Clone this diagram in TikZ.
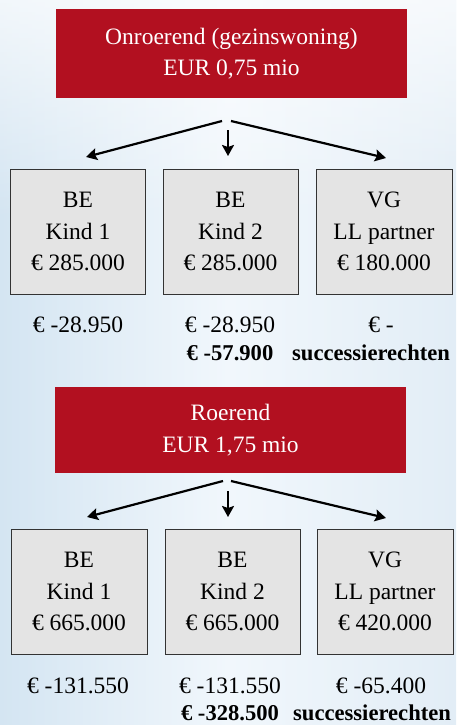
\documentclass[tikz,border=0pt]{standalone}
\usepackage{fontspec}
\setmainfont{Liberation Serif}
\usetikzlibrary{arrows.meta,fadings}
\definecolor{boxred}{RGB}{178,16,32}
\definecolor{boxgray}{RGB}{228,228,228}
\definecolor{bgblue}{RGB}{212,229,242}
\definecolor{bgpale}{RGB}{226,237,246}
\definecolor{bgmid}{RGB}{241,247,252}
\tikzset{
  redbox/.style={fill=boxred, text=white, minimum width=351pt, align=center, inner sep=0pt,
    font=\fontsize{23.5}{31.5}\selectfont},
  graybox/.style={fill=boxgray, draw=black!80, line width=1pt, minimum width=135pt, minimum height=125pt,
    align=center, inner sep=0pt, font=\fontsize{23.5}{31.5}\selectfont},
  amount/.style={inner sep=0pt, font=\fontsize{23.5}{26}\selectfont},
  total/.style={inner sep=0pt, font=\fontsize{22.6}{26}\selectfont\bfseries},
  arr/.style={line width=2.2pt, -{Stealth[length=11pt,width=12pt,inset=2pt]}},
}
\begin{document}
\begin{tikzpicture}[x=1pt,y=-1pt]
\useasboundingbox (0,0) rectangle (456,725);
\shade[left color=bgblue, right color=bgpale, middle color=bgmid, shading angle=90] (0,0) rectangle (456,725);
\fill[white, opacity=0.7, path fading=south] (0,0) rectangle (456,220);
% ---- top half
\node[redbox, minimum height=89pt] (r1) at (231.5,53.5) {Onroerend (gezinswoning)\\EUR 0,75 mio};
\node[graybox] (a1) at (78,231.5) {BE\\Kind 1\\€ 285.000};
\node[graybox] (a2) at (230.5,231.5) {BE\\Kind 2\\€ 285.000};
\node[graybox, minimum width=136pt] (a3) at (384,231.5) {VG\\LL partner\\€ 180.000};
\coordinate (s1l) at (222,121);
\coordinate (s1m) at (228,130);
\coordinate (s1r) at (231,121);
\coordinate (e1l) at (86,157);
\coordinate (e1m) at (228,156);
\coordinate (e1r) at (386,158);
\draw[arr] (s1l) -- (e1l);
\draw[arr] (s1m) -- (e1m);
\draw[arr] (s1r) -- (e1r);
\node[amount] (t1a) at (78,325) {€ -28.950};
\node[amount] (t1b) at (230,325) {€ -28.950};
\node[amount] (t1c) at (381,325) {€ -};
\node[total] (t1d) at (230,353) {€ -57.900};
\node[total, anchor=west] (t1e) at (292,353) {successierechten};
% ---- bottom half
\node[redbox, minimum height=86pt] (r2) at (230.5,430) {Roerend\\EUR 1,75 mio};
\node[graybox, minimum width=136pt] (b1) at (79,591.5) {BE\\Kind 1\\€ 665.000};
\node[graybox] (b2) at (232.5,591.5) {BE\\Kind 2\\€ 665.000};
\node[graybox, minimum width=136pt] (b3) at (385,591.5) {VG\\LL partner\\€ 420.000};
\coordinate (s2l) at (223,481);
\coordinate (s2m) at (228,491);
\coordinate (s2r) at (231,481);
\coordinate (e2l) at (87,517);
\coordinate (e2m) at (228,517);
\coordinate (e2r) at (386,518);
\draw[arr] (s2l) -- (e2l);
\draw[arr] (s2m) -- (e2m);
\draw[arr] (s2r) -- (e2r);
\node[amount] (u1a) at (78,686) {€ -131.550};
\node[amount] (u1b) at (230,686) {€ -131.550};
\node[amount] (u1c) at (381,686) {€ -65.400};
\node[total] (u1d) at (230,713) {€ -328.500};
\node[total, anchor=west] (u1e) at (293,713) {successierechten};
\end{tikzpicture}
\end{document}
